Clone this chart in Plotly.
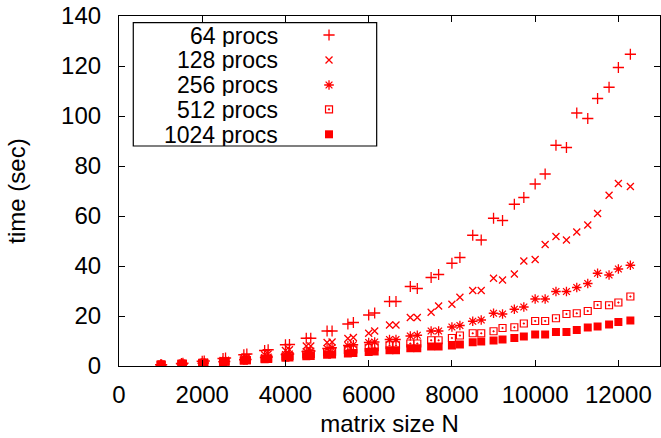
import plotly.graph_objects as go

# Matrix sizes: multiples of 500 interleaved with multiples of 512
matrix_n = [1000, 1024, 1500, 1536, 2000, 2048, 2500, 2560, 3000, 3072,
            3500, 3584, 4000, 4096, 4500, 4608, 5000, 5120, 5500, 5632,
            6000, 6144, 6500, 6656, 7000, 7168, 7500, 7680, 8000, 8192,
            8500, 8704, 9000, 9216, 9500, 9728, 10000, 10240, 10500, 10752,
            11000, 11264, 11500, 11776, 12000, 12288]

# Run times in seconds per processor count
t_64 = [0.5, 0.5, 1.0, 1.1, 1.9, 2.0, 3.0, 3.2, 4.5, 4.8,
        6.2, 6.5, 8.5, 8.6, 11.1, 11.1, 14.0, 14.0, 16.8, 17.4,
        20.4, 21.2, 25.8, 25.8, 31.8, 31.0, 35.4, 36.6, 41.1, 43.4,
        52.3, 50.4, 59.1, 58.2, 64.7, 67.4, 72.8, 76.8, 88.3, 87.4,
        101.2, 99.0, 107.0, 111.5, 119.4, 124.7]
t_128 = [0.4, 0.4, 0.8, 0.8, 1.4, 1.5, 2.2, 2.3, 3.2, 3.4,
         4.5, 4.8, 6.2, 6.5, 8.0, 8.0, 9.4, 9.6, 11.0, 11.4,
         13.1, 14.0, 16.4, 16.4, 19.4, 19.4, 21.5, 24.0, 24.7, 27.5,
         30.2, 30.2, 35.1, 34.4, 36.8, 42.0, 42.6, 48.6, 51.8, 50.4,
         53.6, 56.4, 61.0, 68.3, 73.0, 71.8]
t_256 = [0.4, 0.4, 0.7, 0.7, 1.1, 1.2, 1.7, 1.8, 2.5, 2.6,
         3.4, 3.6, 4.6, 4.8, 5.8, 6.0, 7.0, 7.3, 8.2, 8.5,
         9.4, 9.6, 10.6, 10.6, 12.0, 12.3, 14.0, 14.0, 15.6, 16.2,
         17.9, 18.4, 21.1, 20.8, 22.7, 23.6, 26.8, 26.8, 29.8, 29.8,
         31.4, 33.0, 37.1, 36.4, 38.8, 40.3]
t_512 = [0.5, 0.5, 0.8, 0.8, 1.1, 1.2, 1.6, 1.7, 2.2, 2.3,
         2.9, 3.0, 3.8, 4.0, 4.6, 4.8, 5.5, 5.7, 6.4, 6.6,
         7.3, 7.5, 8.3, 8.3, 9.0, 9.0, 10.3, 10.3, 11.2, 12.2,
         13.1, 13.1, 13.9, 15.2, 15.5, 17.0, 18.0, 18.0, 19.1, 20.8,
         21.1, 22.0, 24.4, 24.3, 25.4, 27.8]
t_1024 = [0.6, 0.6, 1.0, 1.0, 1.3, 1.4, 1.7, 1.8, 2.2, 2.3,
          2.7, 2.8, 3.3, 3.4, 3.9, 4.0, 4.5, 4.6, 5.0, 5.2,
          5.6, 5.8, 6.3, 6.3, 7.1, 7.1, 7.8, 7.8, 8.2, 8.6,
          9.5, 9.8, 10.2, 10.6, 11.2, 11.8, 12.6, 12.6, 13.6, 13.6,
          14.4, 15.4, 15.8, 16.6, 17.6, 18.2]

series_labels = ["64 procs", "128 procs", "256 procs", "512 procs", "1024 procs"]
series_values = [t_64, t_128, t_256, t_512, t_1024]

RED = "#ff0000"
FONT = "Liberation Sans, Arial, sans-serif"
FS = 24
marker_styles = [
    dict(symbol="cross-thin", size=8, line=dict(width=1.3, color=RED)),
    dict(symbol="x-thin", size=7, line=dict(width=1.3, color=RED)),
    dict(symbol="asterisk", size=8, line=dict(width=1.3, color=RED)),
    dict(symbol="square-open-dot", size=7, line=dict(width=1.2, color=RED)),
    dict(symbol="square", size=8, line=dict(width=0)),
]

fig = go.Figure()
for label, vals, style in zip(series_labels, series_values, marker_styles):
    fig.add_trace(go.Scatter(x=matrix_n, y=vals, mode="markers", name=label,
                             marker=dict(color=RED, **style), showlegend=False))

# Key box in the upper-left corner: text right-aligned, sample symbol to its right
key_rows = [0.9457, 0.8743, 0.8029, 0.7334, 0.662]
key_text_x = 0.2976
key_symbol_x = 0.3882
for label, style, ry in zip(series_labels, marker_styles, key_rows):
    fig.add_annotation(x=key_text_x, y=ry, xref="paper", yref="paper", text=label,
                       showarrow=False, xanchor="right", yanchor="middle",
                       height=23, valign="middle",
                       font=dict(family=FONT, size=FS - 1, color="black"))
    fig.add_trace(go.Scatter(x=[key_symbol_x], y=[ry], xaxis="x2", yaxis="y2",
                             mode="markers", marker=dict(color=RED, **style),
                             showlegend=False, hoverinfo="skip"))
fig.add_shape(type="rect", xref="paper", yref="paper", x0=0.0264, x1=0.4763,
              y0=0.6286, y1=0.981, line=dict(color="black", width=1.2))

axis_common = dict(showline=True, linecolor="black", linewidth=1.2, mirror="ticks",
                   ticks="inside", ticklen=6, tickcolor="black", tickwidth=1,
                   showgrid=False, zeroline=False,
                   tickfont=dict(family=FONT, size=FS, color="black"))

fig.update_layout(
    width=661, height=438,
    margin=dict(l=119, r=1, t=16, b=72),
    paper_bgcolor="white", plot_bgcolor="white",
    font=dict(family=FONT, size=FS, color="black"),
    xaxis=dict(range=[0, 13000], dtick=2000, tick0=0, tickformat="d",
               ticklabelstandoff=7,
               title=dict(text="matrix size N", standoff=8,
                          font=dict(family=FONT, size=FS)),
               **axis_common),
    yaxis=dict(range=[0, 140], dtick=20, tick0=0, ticklabelstandoff=12,
               title=dict(text="time (sec)", standoff=28,
                          font=dict(family=FONT, size=FS)),
               **axis_common),
    xaxis2=dict(overlaying="x", range=[0, 1], visible=False),
    yaxis2=dict(overlaying="y", range=[0, 1], visible=False),
)

fig.write_html("out.html")
